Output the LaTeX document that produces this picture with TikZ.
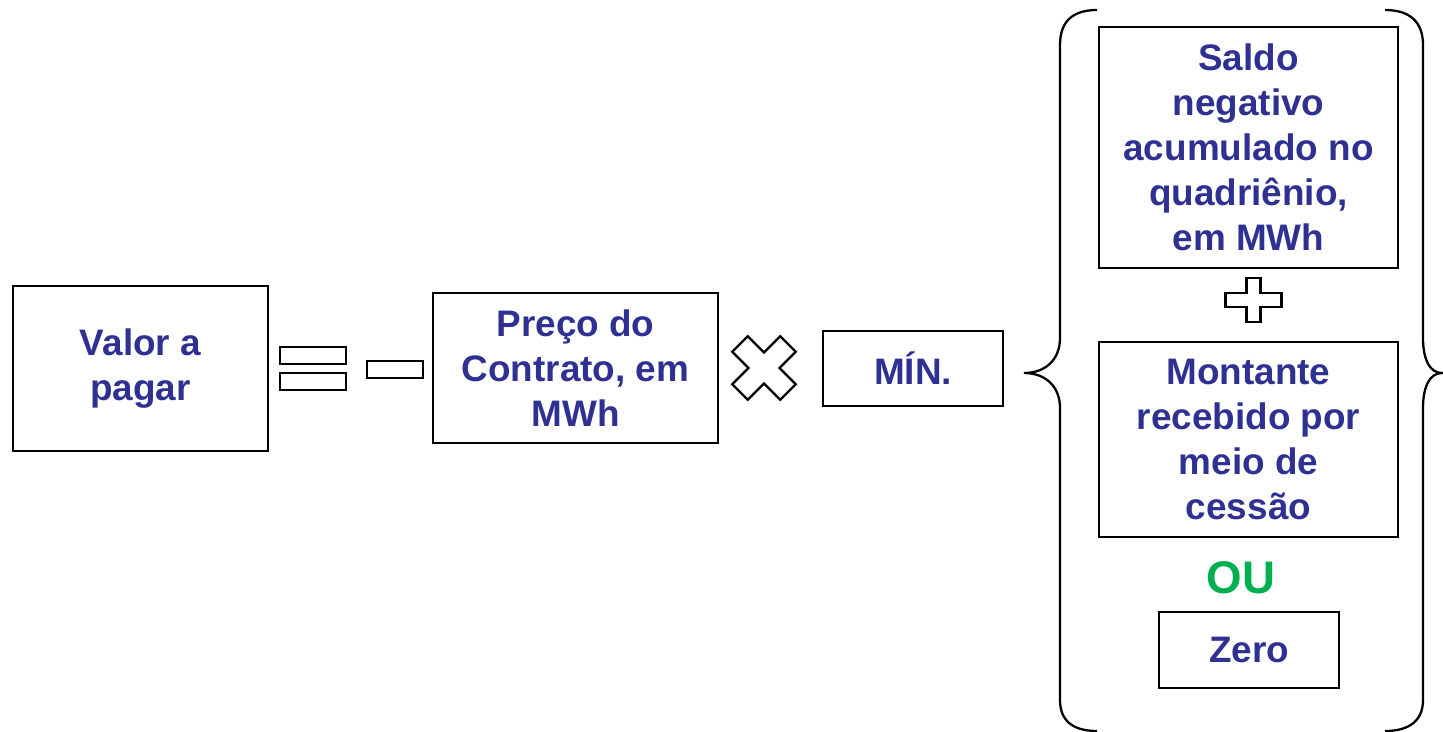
\documentclass[tikz,border=0pt]{standalone}
\usepackage{fontspec}
\setmainfont{Liberation Sans}
\definecolor{azul}{RGB}{46,49,146}
\definecolor{verde}{RGB}{0,176,80}
\begin{document}
\begin{tikzpicture}[x=0.02cm,y=-0.02cm,line width=1.3pt,
        caixa/.style={draw,inner sep=0pt,align=center,text=azul,font=\bfseries\fontsize{21}{25.6}\selectfont},
        sinal/.style={draw,line join=miter}]
        \useasboundingbox (0,0) rectangle (1443,731);
        \node[caixa,minimum width=5.1cm,minimum height=3.3cm] (valor) at (140.5,368.5) {Valor a\\pagar};
        \draw[sinal] (280,347) rectangle (346,364);
        \draw[sinal] (280,373) rectangle (346,390);
        \draw[sinal] (367,361) rectangle (423,378);
        \node[caixa,minimum width=5.7cm,minimum height=3cm] (preco) at (575.5,368) {Preço do\\Contrato, em\\MWh};
        \draw[sinal,shift={(764,368)},rotate=45] (-11,-34) -- (11,-34) -- (11,-11) -- (34,-11) -- (34,11) -- (11,11) -- (11,34) -- (-11,34) -- (-11,11) -- (-34,11) -- (-34,-11) -- (-11,-11) -- cycle;
        \node[caixa,minimum width=3.6cm,minimum height=1.5cm] (min) at (913,368.5) {MÍN.};
        \draw (1097,10) .. controls (1072,10) and (1060,22) .. (1060,45) -- (1060,338) .. controls (1060,360) and (1045,373) .. (1024,373) .. controls (1045,373) and (1060,386) .. (1060,408) -- (1060,700) .. controls (1060,720) and (1072,731) .. (1097,731);
        \draw (1385,10) .. controls (1410,10) and (1423,22) .. (1423,45) -- (1423,338) .. controls (1423,360) and (1430,373) .. (1442,373) .. controls (1430,373) and (1423,386) .. (1423,408) -- (1423,700) .. controls (1423,720) and (1410,731) .. (1385,731);
        \node[caixa,minimum width=5.98cm,minimum height=4.82cm] (saldo) at (1248.5,147.5) {Saldo\\negativo\\acumulado no\\quadriênio,\\em MWh};
        \draw[sinal,shift={(1253.5,300)}] (-7,-22) -- (7,-22) -- (7,-7) -- (28,-7) -- (28,7) -- (7,7) -- (7,22) -- (-7,22) -- (-7,7) -- (-28,7) -- (-28,-7) -- (-7,-7) -- cycle;
        \node[caixa,minimum width=5.98cm,minimum height=3.9cm] (montante) at (1248.5,439.5) {Montante\\recebido por\\meio de\\cessão};
        \node[text=verde,font=\bfseries\fontsize{26}{30}\selectfont] (ou) at (1241,578) {OU};
        \node[caixa,minimum width=3.6cm,minimum height=1.52cm] (zero) at (1249,650) {Zero};
\end{tikzpicture}
\end{document}
